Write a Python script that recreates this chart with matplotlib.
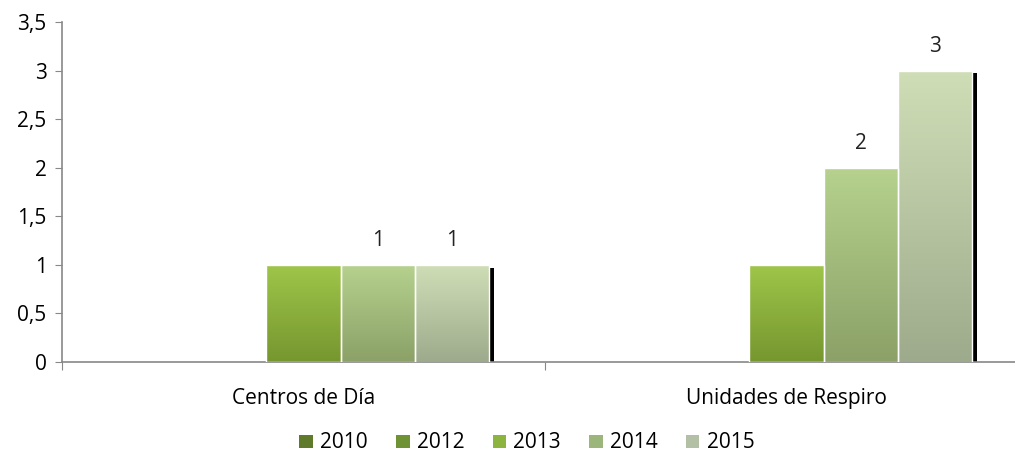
import numpy as np
import matplotlib.pyplot as plt
from matplotlib.patches import Patch
from matplotlib.colors import LinearSegmentedColormap

categories = ['Centros de Día', 'Unidades de Respiro']
years = ['2010', '2012', '2013', '2014', '2015']
values = {
    '2010': [0, 0],
    '2012': [0, 0],
    '2013': [1, 1],
    '2014': [1, 2],
    '2015': [1, 3],
}
# data labels shown in the chart (None = no label)
labels = {
    '2010': [None, None],
    '2012': [None, None],
    '2013': [None, None],
    '2014': ['1', '2'],
    '2015': ['1', '3'],
}

# gradient colours (top, bottom) and legend colour
grad = {
    '2010': ('#6E8E33', '#4F6A22'),
    '2012': ('#86AC3C', '#61802A'),
    '2013': ('#9FC64A', '#76962F'),
    '2014': ('#B6D28E', '#8BA167'),
    '2015': ('#D0DEB7', '#9DAB8C'),
}
legend_col = {
    '2010': '#5E7A2A',
    '2012': '#6F9234',
    '2013': '#8DB43E',
    '2014': '#9CB57A',
    '2015': '#B3C0A5',
}

plt.rcParams['font.family'] = ['Open Sans', 'DejaVu Sans']
FS = 15

fig = plt.figure(figsize=(10.15, 4.57), dpi=100)
ax = fig.add_axes([62 / 1015, 95 / 457, 966 / 1015, 340 / 457])

x = np.arange(len(categories))
w = 0.154
n = len(years)

# shadow (offset black bars behind)
dx = 5 / 483
for i, y in enumerate(years):
    pos = x + (i - (n - 1) / 2) * w
    v = np.array(values[y], dtype=float)
    ax.bar(pos + dx, np.maximum(v - 0.03, 0), w, color='black', zorder=1)

for i, y in enumerate(years):
    pos = x + (i - (n - 1) / 2) * w
    top, bot = grad[y]
    cmap = LinearSegmentedColormap.from_list('g', [bot, top])
    for p, v, lab in zip(pos, values[y], labels[y]):
        if v <= 0:
            continue
        b = ax.bar(p, v, w, color='none', edgecolor='white', linewidth=1.0,
                   zorder=3)[0]
        img = ax.imshow(np.linspace(0, 1, 256).reshape(-1, 1), cmap=cmap,
                        origin='lower', aspect='auto',
                        extent=(p - w / 2, p + w / 2, 0, v), zorder=2)
        img.set_clip_path(b)
        if lab is not None:
            ax.text(p, v + 0.14, lab, ha='center', va='bottom', fontsize=FS,
                    color='#222222')

ax.set_xlim(-0.5, 1.5)
ax.set_ylim(0, 3.5)
ax.set_yticks(np.arange(0, 3.51, 0.5))
ax.set_yticklabels(['0', '0,5', '1', '1,5', '2', '2,5', '3', '3,5'], fontsize=FS)
ax.set_xticks([-0.5, 0.5, 1.5])
ax.set_xticklabels([])
ax.set_xticks(x, minor=True)
ax.set_xticklabels(categories, minor=True, fontsize=FS)
ax.tick_params(axis='x', which='minor', length=0, pad=19)
ax.tick_params(axis='x', which='major', length=6, color='#888888')
ax.tick_params(axis='y', length=5, color='#888888', pad=6)

for s in ['top', 'right']:
    ax.spines[s].set_visible(False)
for s in ['left', 'bottom']:
    ax.spines[s].set_color('#888888')
    ax.spines[s].set_linewidth(1.2)

handles = [Patch(facecolor=legend_col[y], label=y) for y in years]
fig.legend(handles=handles, loc='center', bbox_to_anchor=(527 / 1015, 1 - 443 / 457),
           ncol=5, frameon=False, fontsize=FS, handlelength=0.65, handleheight=0.6,
           handletextpad=0.35, columnspacing=1.35)

fig.savefig('out.png', dpi=100)
